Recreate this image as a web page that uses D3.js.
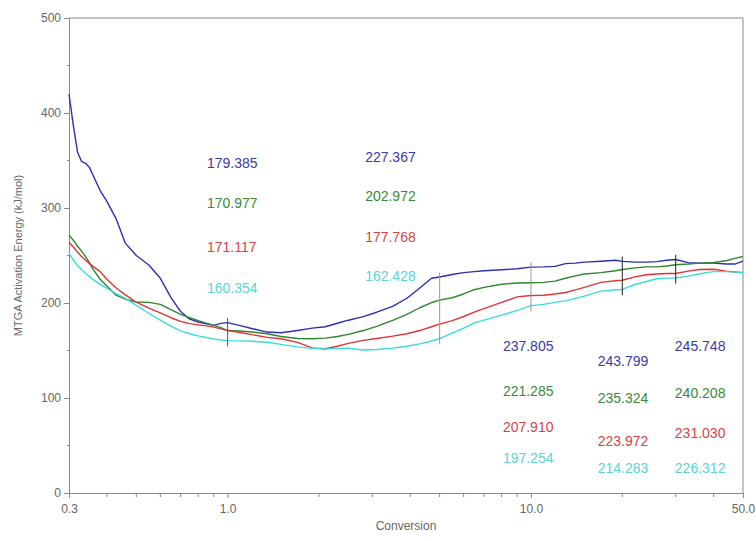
<!DOCTYPE html>
<html>
<head>
<meta charset="utf-8">
<script src="https://cdn.jsdelivr.net/npm/d3@7"></script>
<style>
  html, body { margin: 0; padding: 0; background: #ffffff; }
  svg { display: block; font-family: "Liberation Sans", Arial, sans-serif; }
</style>
</head>
<body>
<svg id="chart" width="756" height="541"></svg>
<script>
// Conversion grid shared by all four isoconversional curves
const conversion = [0.3, 0.31, 0.32, 0.33, 0.34, 0.35, 0.36, 0.38, 0.4, 0.43, 0.46, 0.5,
  0.55, 0.6, 0.65, 0.7, 0.75, 0.8, 0.85, 0.9, 0.95, 1.0, 1.1, 1.2, 1.35, 1.5, 1.7,
  1.9, 2.1, 2.3, 2.5, 2.8, 3.1, 3.5, 3.9, 4.3, 4.7, 5.0, 5.5, 6, 6.5, 7, 8, 9, 10,
  11, 12, 13, 14, 15, 17, 19, 20, 22, 24, 26, 28, 30, 33, 36, 40, 44, 47, 50];

// Activation energy (kJ/mol) for each sample
const blueEa = [420, 387, 359, 349, 347, 343, 334.5, 318.4, 307, 288, 263, 250,
  240, 226, 206, 191, 183, 180, 178, 176.5, 178.5, 179.385, 176.2, 173.2, 169.4, 168.7, 171.1,
  173.5, 175, 178.7, 181.9, 185.6, 190.3, 196.4, 205, 215.8, 226, 227.367, 230, 232, 233, 234, 235, 236, 237.805,
  238, 238.5, 241.5, 242, 243, 244, 245, 243.799, 243, 243, 243.5, 245, 245.748, 242.5, 242, 242, 241, 241, 244];

const greenEa = [271.5, 266, 260, 254.6, 249, 242.5, 235.6, 225, 218, 208, 204, 201,
  200.7, 198.5, 193, 188, 184.5, 181.4, 178.8, 176.5, 174, 170.977, 170.6, 169.5, 167.6, 164.8, 162.7,
  162.4, 163, 164.8, 167, 171, 175.4, 181.8, 188, 195, 200.5, 202.972, 205.5, 209.5, 214, 216.5, 219.7, 221, 221.285,
  221.7, 223, 226, 228.5, 230.5, 232, 234, 235.324, 237, 238, 238, 239, 240.208, 241, 242, 242.7, 244.5, 247, 249];

const redEa = [264, 259, 253.5, 249, 245, 241.5, 238.5, 233, 225, 215.5, 208.5, 200.8,
  194.5, 189.5, 184.5, 180.7, 178.3, 177, 175.9, 174.6, 172.8, 171.117, 168.9, 166.7, 163.8, 162.4, 158.5,
  152.8, 151.8, 154.5, 157.5, 160.7, 162.7, 165.1, 167.6, 171, 175, 177.768, 181.4, 185.8, 190.3, 194, 200.6, 206.4, 207.910,
  208.2, 209.5, 211, 213.8, 216.5, 221.7, 223.4, 223.972, 227.5, 229.8, 230.5, 231, 231.030, 233.5, 235.3, 235.5, 233.5, 232.7, 232];

const cyanEa = [252.6, 245, 239.5, 235, 231.3, 228, 224.8, 219.6, 215.5, 209.5, 204.8, 197.5,
  189.2, 182, 175.6, 170.6, 167.6, 165.4, 163.7, 162.2, 161, 160.354, 160.1, 159.7, 158.7, 156.4, 153.8,
  152.2, 151.6, 152.2, 152.3, 150.6, 151.1, 152.5, 154.5, 157, 160, 162.428, 168.2, 173.6, 179, 182, 187.2, 192.3, 197.254,
  198.5, 200.6, 202.2, 204.8, 207.3, 212.5, 214, 214.283, 219.5, 222.6, 225.5, 226.2, 226.312, 228.3, 230.8, 233, 233, 232.5, 232];

const markerConversions = [1, 5, 10, 20, 30];

// Axis tick labels
const yTicks = [0, 100, 200, 300, 400, 500];
const yMinorTicks = [50, 150, 250, 350, 450];
const xTicks = [0.3, 1, 10, 50];
const xTickLabels = ["0.3", "1.0", "10.0", "50.0"];
const xMinorTicks = [0.4, 0.5, 0.6, 0.7, 0.8, 0.9, 2, 3, 4, 5, 6, 7, 8, 9, 20, 30, 40];

const series = [
  { values: blueEa,  line: "#2f2fb4", text: "#3a3aa8" },
  { values: greenEa, line: "#2e862e", text: "#3a8a3a" },
  { values: redEa,   line: "#e03434", text: "#d44444" },
  { values: cyanEa,  line: "#3cdcdc", text: "#5ad4d4" }
];

// Layout of the value readouts: column anchor (conversion) and row heights (energy units)
const readoutLayout = [
  { x: 0.855, rows: [347.4, 305.3, 258.9, 215.8] },
  { x: 2.84,  rows: [353.7, 312.6, 269.5, 228.4] },
  { x: 8.08,  rows: [154.7, 107.4, 69.5, 36.8] },
  { x: 16.6,  rows: [138.9, 100.0, 54.7, 26.3] },
  { x: 29.8,  rows: [154.7, 105.3, 63.2, 26.3] }
];
const markerStroke = ["#555", "#999", "#999", "#222", "#222"];

const margin = { top: 18, right: 13, bottom: 48, left: 69 };
const width = 756, height = 541;
const svg = d3.select("#chart");

const x = d3.scaleLog().domain([0.3, 50]).range([margin.left, width - margin.right]);
const y = d3.scaleLinear().domain([0, 500]).range([height - margin.bottom, margin.top]);

const axisColor = "#8a8a8a";
const labelColor = "#666";

// Frame (top and right edges)
svg.append("path")
  .attr("d", `M${x(0.3)},${y(500)}H${x(50)}V${y(0)}`)
  .attr("fill", "none").attr("stroke", axisColor).attr("stroke-width", 1);

// Y axis
const yAxis = svg.append("g")
  .attr("transform", `translate(${x(0.3)},0)`)
  .call(d3.axisLeft(y).tickValues(yTicks).tickFormat(d3.format("d")).tickSize(5).tickPadding(3));
yAxis.selectAll(".tick text").attr("fill", labelColor).attr("font-size", 12).attr("font-family", "Liberation Sans, Arial, sans-serif");
yAxis.selectAll(".tick line").attr("stroke", axisColor);
yAxis.select(".domain").attr("stroke", axisColor);
yAxis.selectAll(".minor").data(yMinorTicks).enter().append("line")
  .attr("x1", -2).attr("x2", 0).attr("y1", d => y(d)).attr("y2", d => y(d))
  .attr("stroke", axisColor);

// X axis
const xAxis = svg.append("g")
  .attr("transform", `translate(0,${y(0)})`)
  .call(d3.axisBottom(x).tickValues(xTicks).tickFormat((d, i) => xTickLabels[i]).tickSize(5).tickPadding(6));
xAxis.selectAll(".tick text").attr("fill", labelColor).attr("font-size", 12).attr("font-family", "Liberation Sans, Arial, sans-serif");
xAxis.selectAll(".tick line").attr("stroke", axisColor);
xAxis.select(".domain").attr("stroke", axisColor);
xAxis.selectAll(".minor").data(xMinorTicks).enter().append("line")
  .attr("x1", d => x(d)).attr("x2", d => x(d)).attr("y1", 0).attr("y2", 4)
  .attr("stroke", axisColor);

// Axis titles
svg.append("text")
  .attr("x", (x(0.3) + x(50)) / 2).attr("y", 530)
  .attr("text-anchor", "middle").attr("font-size", 12).attr("fill", labelColor)
  .text("Conversion");
svg.append("text")
  .attr("transform", `translate(22,${(y(0) + y(500)) / 2}) rotate(-90)`)
  .attr("text-anchor", "middle").attr("font-size", 11).attr("fill", labelColor)
  .text("MTGA Activation Energy (kJ/mol)");

// Curves
const line = d3.line().x((d, i) => x(conversion[i])).y(d => y(d));
svg.append("g").selectAll("path").data(series).enter().append("path")
  .attr("d", s => line(s.values))
  .attr("fill", "none")
  .attr("stroke", s => s.line)
  .attr("stroke-width", 1.4)
  .attr("stroke-linejoin", "round");

// Vertical markers spanning the readout values at each conversion
markerConversions.forEach((c, k) => {
  const idx = conversion.indexOf(c);
  const vals = series.map(s => s.values[idx]);
  svg.append("line")
    .attr("x1", x(c)).attr("x2", x(c))
    .attr("y1", y(d3.max(vals) + 5)).attr("y2", y(d3.min(vals) - 6))
    .attr("stroke", markerStroke[k]).attr("stroke-width", 1);
});

// Value readouts
markerConversions.forEach((c, k) => {
  const idx = conversion.indexOf(c);
  const col = readoutLayout[k];
  series.forEach((s, j) => {
    svg.append("text")
      .attr("x", x(col.x)).attr("y", y(col.rows[j]))
      .attr("dy", "0.35em")
      .attr("font-size", 14)
      .attr("fill", s.text)
      .text(s.values[idx].toFixed(3));
  });
});
</script>
</body>
</html>
